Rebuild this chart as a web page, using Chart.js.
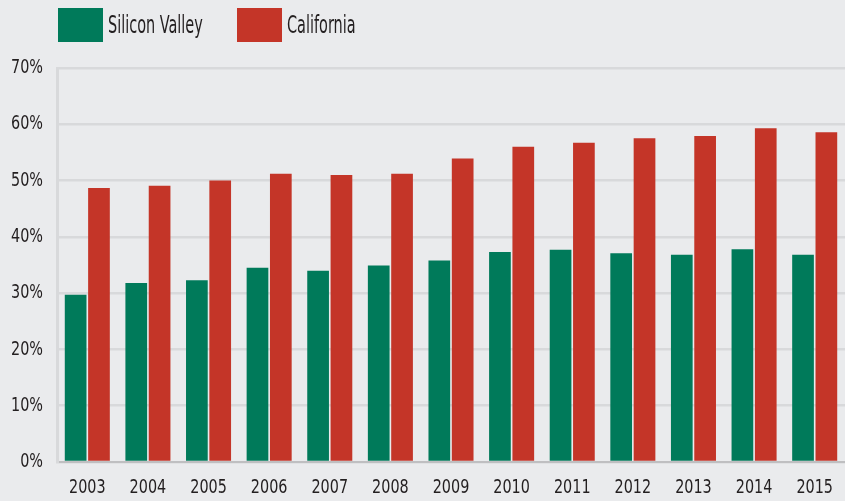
<!DOCTYPE html>
<html>
<head>
<meta charset="utf-8">
<script src="https://cdn.jsdelivr.net/npm/chart.js@4/dist/chart.umd.min.js"></script>
<style>
  html, body { margin: 0; padding: 0; background: #eaebed; }
  #wrap { position: relative; width: 845px; height: 501px; }
  #legend { position: absolute; left: 0; top: 0; font-family: 'DejaVu Sans Condensed', 'DejaVu Sans', sans-serif; font-size: 24px; color: #231f20; }
  .box { position: absolute; top: 8px; width: 45px; height: 34px; }
  .txt { position: absolute; top: 11px; white-space: nowrap; transform: scaleX(0.67); transform-origin: left center; line-height: 28px; }
</style>
</head>
<body>
<div id="wrap">
  <canvas id="myChart" width="845" height="501"></canvas>
  <div id="legend"></div>
</div>
<script>
const years = ['2003','2004','2005','2006','2007','2008','2009','2010','2011','2012','2013','2014','2015'];
const siliconValley = [29.7, 31.8, 32.3, 34.5, 34.0, 34.9, 35.8, 37.3, 37.7, 37.1, 36.8, 37.8, 36.8];
const california = [48.7, 49.1, 50.0, 51.2, 51.0, 51.2, 53.9, 56.0, 56.7, 57.5, 57.9, 59.3, 58.6];
const seriesNames = ['Silicon Valley', 'California'];
const seriesColors = ['#007a5a', '#c43528'];

const fontFamily = "'DejaVu Sans Condensed', 'DejaVu Sans', sans-serif";
const textColor = '#231f20';
const legendLeft = [58, 237];

window.addEventListener("load", function(){
    legendGo();
    graph();
});

function legendGo() {
    let legend = document.getElementById("legend");
    for (let i = 0; i < seriesNames.length; i++) {
        legend.innerHTML +=
        `<div class="box" style="left:${legendLeft[i]}px;background:${seriesColors[i]}"></div>
         <span class="txt" style="left:${legendLeft[i] + 50}px">${seriesNames[i]}</span>`;
    }
}

// squeeze canvas text horizontally around its anchor so it reads like a condensed face
function narrowText(ctx, factor) {
    const orig = ctx.fillText;
    ctx.fillText = function(text, x, y){
        this.save();
        this.translate(x, y);
        this.scale(factor, 1);
        orig.call(this, text, 0, 0);
        this.restore();
    };
}

function graph() {
    var ctx = document.getElementById('myChart').getContext('2d');
    narrowText(ctx, 0.8);
    var chart = new Chart(ctx, {
        type: 'bar',
        data: {
            labels: years,
            datasets: [{
                label: seriesNames[0],
                backgroundColor: seriesColors[0],
                data: siliconValley
            },
            {
                label: seriesNames[1],
                backgroundColor: seriesColors[1],
                data: california
            }]
        },
        options: {
            responsive: false,
            animation: false,
            categoryPercentage: 0.77,
            barPercentage: 0.93,
            layout: { padding: { top: 68, right: 0, left: 0, bottom: 0 } },
            plugins: {
                legend: { display: false },
                tooltip: { enabled: false }
            },
            scales: {
                x: {
                    grid: { display: false, drawTicks: false },
                    border: { color: '#bfbfc1', width: 2 },
                    ticks: { color: textColor, padding: 14, font: { family: fontFamily, size: 20 } },
                    afterFit: function(axis){
                        axis.height = 39;
                        axis.paddingLeft = 0;
                        axis.paddingRight = 0;
                    }
                },
                y: {
                    min: 0,
                    max: 70,
                    grid: { color: '#d8d9db', lineWidth: 2.5, drawTicks: false },
                    border: { color: '#d8d9db', width: 3 },
                    ticks: {
                        stepSize: 10,
                        color: textColor,
                        padding: 14,
                        font: { family: fontFamily, size: 20 },
                        callback: function(v){ return v + '%'; }
                    },
                    afterFit: function(axis){
                        axis.width = 57;
                        axis.paddingTop = 0;
                    }
                }
            }
        }
    });
}
</script>
</body>
</html>
